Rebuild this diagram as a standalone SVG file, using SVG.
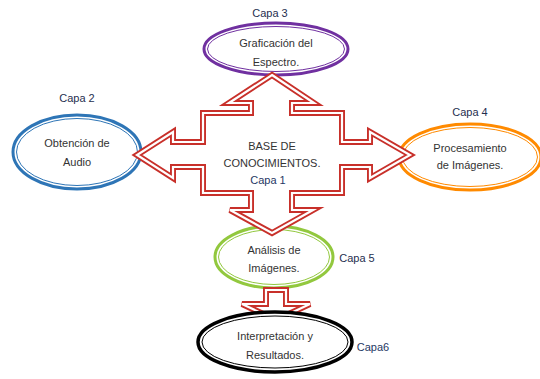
<svg xmlns="http://www.w3.org/2000/svg" width="540" height="379" viewBox="0 0 540 379">
<style>
text{font-family:"Liberation Sans",Arial,sans-serif;font-size:11px;fill:#333;text-anchor:middle}
.cap{fill:#1f2f4f}
.e{fill:#fff}
.ri{fill:none;stroke:#fff;stroke-width:2.2;stroke-linejoin:miter}
.ro{fill:#fff;stroke:#c8302a;stroke-width:6;stroke-linejoin:miter}
</style>
<rect width="540" height="379" fill="#fff"/>
<g id="capa3">
<ellipse class="e" cx="276" cy="49" rx="72" ry="26" stroke="#7030a0" stroke-width="3"/>
<ellipse cx="276" cy="49" rx="68.5" ry="22.5" fill="none" stroke="#7030a0" stroke-width="1"/>
<text x="276" y="47">Graficación del</text>
<text x="276" y="66">Espectro.</text>
<text class="cap" x="270" y="17">Capa 3</text>
</g>
<g id="capa2">
<ellipse class="e" cx="77" cy="152" rx="64" ry="37" stroke="#2e75b6" stroke-width="3"/>
<ellipse cx="77" cy="152" rx="60.5" ry="33.5" fill="none" stroke="#2e75b6" stroke-width="1"/>
<text x="77" y="147">Obtención de</text>
<text x="77" y="166">Audio</text>
<text class="cap" x="77" y="102">Capa 2</text>
</g>
<g id="capa4">
<ellipse class="e" cx="470" cy="157" rx="71" ry="33" stroke="#ff8a00" stroke-width="3"/>
<ellipse cx="470" cy="157" rx="67.5" ry="29.5" fill="none" stroke="#ff8a00" stroke-width="1"/>
<text x="470" y="152">Procesamiento</text>
<text x="470" y="169">de Imágenes.</text>
<text class="cap" x="470" y="116">Capa 4</text>
</g>
<g id="capa5">
<ellipse class="e" cx="274" cy="257" rx="59" ry="31" stroke="#92c83e" stroke-width="3"/>
<ellipse cx="274" cy="257" rx="55.5" ry="27.5" fill="none" stroke="#92c83e" stroke-width="1"/>
<text x="274" y="254">Análisis de</text>
<text x="274" y="272">Imágenes.</text>
<text class="cap" x="357" y="262">Capa 5</text>
</g>
<g id="capa1">
<polygon class="ro" points="272,75 314,103 292,103 292,113 342,113 342,142 370,142 370,132 410,155 370,178 370,167 342,167 342,193 292,193 292,210 313,210 272,233 230,210 251,210 251,193 203,193 203,167 173,167 173,178 137,155 173,132 173,142 203,142 203,113 251,113 251,103 229,103"/>
<polygon class="ri" points="272,75 314,103 292,103 292,113 342,113 342,142 370,142 370,132 410,155 370,178 370,167 342,167 342,193 292,193 292,210 313,210 272,233 230,210 251,210 251,193 203,193 203,167 173,167 173,178 137,155 173,132 173,142 203,142 203,113 251,113 251,103 229,103"/>
<text x="272" y="150">BASE DE</text>
<text x="272" y="167">CONOCIMIENTOS.</text>
<text class="cap" x="268" y="184" style="fill:#1f3864">Capa 1</text>
</g>
<g id="connectors">
<polygon class="ro" points="266,290 286,290 286,304 310,304 276,320 242,304 266,304"/>
<polygon class="ri" points="266,290 286,290 286,304 310,304 276,320 242,304 266,304"/>
</g>
<g id="capa6">
<ellipse class="e" cx="275" cy="342" rx="77" ry="30" stroke="#000" stroke-width="3.5"/>
<ellipse cx="275" cy="342" rx="73" ry="26" fill="none" stroke="#000" stroke-width="1"/>
<text x="275" y="340">Interpretación y</text>
<text x="275" y="359">Resultados.</text>
<text class="cap" x="373" y="351" style="fill:#1f3864">Capa6</text>
</g>
</svg>
